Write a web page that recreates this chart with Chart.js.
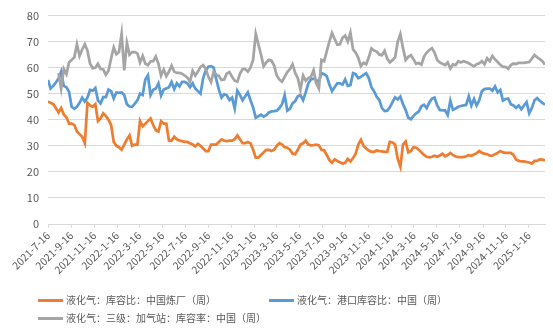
<!DOCTYPE html>
<html>
<head>
<meta charset="utf-8">
<script src="https://cdn.jsdelivr.net/npm/chart.js@4.4.1/dist/chart.umd.min.js"></script>
<style>
  body { margin: 0; background: #fff; }
  #wrap { position: relative; width: 553px; height: 331px; }
  .leg { position: absolute; font: 10px "Noto Sans CJK SC", sans-serif; color: #595959; white-space: nowrap; line-height: 12px; }
  .leg i { display: inline-block; width: 25px; height: 3px; vertical-align: middle; margin-right: 3px; position: relative; top: -1px; }
</style>
</head>
<body>
<div id="wrap">
  <canvas id="c" width="553" height="331"></canvas>
  <div class="leg" style="left:38px;top:294px"><i style="background:#ED7D31"></i>液化气：库容比：中国炼厂（周）</div>
  <div class="leg" style="left:269px;top:294px"><i style="background:#5B9BD5"></i>液化气：港口库容比：中国（周）</div>
  <div class="leg" style="left:38px;top:312px"><i style="background:#A5A5A5"></i>液化气：三级：加气站：库容率：中国（周）</div>
</div>
<script>
// weekly series, first week 2021-7-16
const startDate = '2021-7-16';
const tickLabels = ['2021-7-16', '2021-9-16', '2021-11-16', '2022-1-16', '2022-3-16', '2022-5-16',
  '2022-7-16', '2022-9-16', '2022-11-16', '2023-1-16', '2023-3-16', '2023-5-16', '2023-7-16',
  '2023-9-16', '2023-11-16', '2024-1-16', '2024-3-16', '2024-5-16', '2024-7-16', '2024-9-16',
  '2024-11-16', '2025-1-16'];

// 液化气：库容比：中国炼厂（周）
const refinery = [
  47, 46.5, 46, 44.5, 42.8, 44.5, 42, 41, 38.5, 38.5, 38, 35.5, 34.5, 33.5, 31,
  46.5, 45.5, 45, 46, 39.5, 40.5, 42.5, 41.5, 40, 38, 31.5, 30, 29.5, 28.5, 30.5,
  32.5, 34, 30, 30.5, 30.5, 39.5, 37.5, 38.5, 39.5, 40.5, 38, 36, 35.5, 39.5, 38.5,
  38.5, 32, 32, 33.5, 32.5, 32, 31.8, 31.5, 31.5, 31, 30.5, 29.8, 30.8, 30, 29,
  28, 28, 30.5, 30.5, 30.5, 31.5, 32.5, 32, 31.8, 32, 32, 32.5, 34, 32.5, 31,
  31, 31.5, 31, 28.5, 25.5, 25.5, 26.5, 27.5, 28.5, 28.5, 28, 28.5, 30, 31, 30.5,
  29.5, 29.3, 28.5, 27, 26.8, 28.5, 30.5, 31, 32, 30.5, 30.2, 30.3, 30.5, 30.2, 28.5,
  28.3, 26.5, 24.5, 23.5, 24.8, 24.2, 23.7, 23.2, 23.5, 25, 24, 25.3, 27, 30.5, 32.3,
  30, 29, 28.2, 27.7, 27.7, 28.2, 28, 27.9, 27.7, 27.7, 31.5, 31.3, 30.5, 25, 22,
  30.5, 31.7, 27.5, 28, 29.5, 29.3, 28.5, 27.5, 26.5, 25.8, 25.6, 25.8, 26.2, 25.8, 26.3,
  27, 26, 26.5, 27.3, 26.5, 25.9, 25.7, 25.7, 25.7, 26, 26.4, 26.2, 26.7, 27.2, 28,
  27.3, 27, 26.8, 26.2, 26.2, 26.8, 27.3, 28, 27.5, 27.3, 27.3, 27.3, 26.5, 24.8, 24.2,
  24, 24, 23.8, 23.6, 23.2, 24.2, 24.2, 24.8, 24.7, 24.4
];

// 液化气：港口库容比：中国（周）
const port = [
  55.3, 52, 53, 54.3, 55.8, 58.5, 53, 52.5, 50.8, 45, 44.2, 45, 46.5, 48.5, 47,
  48.5, 51.5, 51.2, 52.2, 47.5, 46.3, 48.7, 48.7, 51.6, 51, 48.2, 50.5, 50.3, 50.5, 49.5,
  46, 45.1, 45, 46.2, 47.5, 50, 49.5, 55.5, 57.1, 49.5, 51.5, 52, 54, 49.3, 51.6,
  52, 52.5, 54.5, 51.8, 54, 52.8, 54.6, 54.6, 54, 52.5, 54, 52, 51, 50, 56,
  59, 60.4, 60.6, 60, 55.5, 51.5, 48.5, 49.8, 49.4, 47.6, 48.5, 44.3, 51.2, 49.6, 47.5,
  49, 50.5, 47.5, 44.8, 40.8, 41.3, 42, 41.2, 41.8, 42.8, 43.2, 43.3, 43.5, 44.5, 46,
  49.5, 43.5, 44.2, 46.3, 47.2, 49, 49.5, 47.5, 50.5, 54, 55.5, 55.8, 55.3, 54.5, 57.9,
  57.5, 56.8, 53.5, 51, 52.5, 54, 54, 53.5, 55.5, 53, 53.3, 57.9, 57.5, 56, 56.5,
  57.2, 57.9, 56, 52.5, 51, 48.8, 47.6, 44.5, 43.4, 43.5, 44.8, 46.8, 48.6, 47.8, 48.9,
  46, 43.8, 40.8, 40.2, 41.5, 42.5, 43.2, 45.2, 45.8, 44.5, 46.7, 48.1, 48.5, 45.5, 43.8,
  43.6, 43.6, 41.8, 47.3, 43.8, 44.3, 45, 45.3, 45.5, 45.7, 49, 45.5, 48, 45.5, 47.5,
  51, 51.8, 52, 52, 51.2, 52.8, 50.5, 51.5, 47.4, 48, 48.2, 46, 45.5, 44.6, 45.5,
  44, 45.5, 46.8, 42.5, 44.5, 47.5, 48.3, 47.3, 46.5, 45.8
];

// 液化气：三级：加气站：库容率：中国（周）
const station = [
  null, null, null, null, 58, 52, 59.5, 57.5, 62, 63, 64, 69, 64.5, 67, 69,
  66.5, 61.5, 59.8, 60, 61.5, 59.5, 59.3, 57.3, 58.8, 63.5, 67.8, 65.2, 66, 73, 59,
  69.5, 65, 66, 66, 65.5, 62, 64.5, 61.6, 61, 62.4, 62.5, 64.3, 61.5, 57, 59.3,
  56.8, 58.5, 60.8, 58.5, 58, 58, 57.7, 57, 56.2, 54.6, 58.8, 57, 58.5, 60.3, 61,
  59.5, 56.5, 54.5, 58.5, 57.3, 56.8, 55.3, 55.5, 57.8, 58.3, 56.5, 55, 54.6, 57.7, 59.5,
  59.5, 58.5, 60, 63, 73, 69, 65, 60.5, 62, 63, 62.7, 60.8, 57, 55.4, 54.6,
  56.5, 58.3, 59.4, 61.3, 58, 56, 51.5, 57, 55, 56, 56.5, 59, 54, 52, 63,
  62.5, 66.3, 70, 73.3, 71, 68.8, 69, 71.5, 72.3, 70, 73.5, 67, 65.8, 63.8, 60.6,
  61.9, 61.3, 64, 67.4, 66.6, 66.2, 65, 64.8, 66.5, 63.5, 62, 62.9, 64, 70, 72.9,
  67.5, 63, 64.2, 64.8, 63.2, 61.5, 61.8, 61.2, 64.3, 65.8, 66.8, 67.5, 65.8, 63, 62,
  61.5, 61, 62, 59.7, 61.3, 61, 62.5, 62, 62.5, 62.2, 61.7, 61.1, 60.5, 61.3, 61.7,
  62.5, 61.3, 63.6, 62.5, 64.5, 63.2, 62.2, 61.1, 60.3, 60.3, 59.6, 61, 61.6, 61.4, 61.9,
  61.9, 61.9, 62, 62.2, 63.5, 64.9, 64, 63.3, 62.5, 61.2
];

const DAY = 864e5;
function dayOf(s) {
  const [y, m, d] = s.split('-').map(Number);
  const [y0, m0, d0] = startDate.split('-').map(Number);
  return Math.round((Date.UTC(y, m - 1, d) - Date.UTC(y0, m0 - 1, d0)) / DAY);
}
const weekly = arr => arr.map((v, i) => ({ x: i * 7, y: v }));

const grey = '#595959';
const gridColor = '#d9d9d9';
const font = { family: '"Noto Sans CJK SC", sans-serif', size: 10.5 };

new Chart(document.getElementById('c'), {
  type: 'line',
  data: {
    datasets: [
      { label: '液化气：库容比：中国炼厂（周）', data: weekly(refinery), borderColor: '#ED7D31', order: 3 },
      { label: '液化气：港口库容比：中国（周）', data: weekly(port), borderColor: '#5B9BD5', order: 2 },
      { label: '液化气：三级：加气站：库容率：中国（周）', data: weekly(station), borderColor: '#A5A5A5', order: 1 }
    ]
  },
  options: {
    responsive: false,
    animation: false,
    layout: { padding: { top: 12, right: 8, bottom: 45, left: 0 } },
    elements: {
      line: { borderWidth: 2.75, tension: 0, fill: false },
      point: { radius: 0 }
    },
    plugins: { legend: { display: false }, tooltip: { enabled: false } },
    scales: {
      x: {
        type: 'linear',
        min: 0,
        max: (refinery.length - 1) * 7,
        afterBuildTicks: s => { s.ticks = tickLabels.map(t => ({ value: dayOf(t) })); },
        afterFit: s => { s.height = 62; },
        grid: { drawOnChartArea: false, drawTicks: true, tickLength: 4, color: gridColor },
        border: { display: true, color: gridColor },
        ticks: {
          autoSkip: false, minRotation: 45, maxRotation: 45, padding: 1,
          color: grey, font: font,
          callback: (v, i) => tickLabels[i]
        }
      },
      y: {
        min: 0, max: 80,
        afterFit: s => { s.width = 48; },
        grid: { color: gridColor, drawTicks: false },
        border: { display: false },
        ticks: { stepSize: 10, padding: 9, color: grey, font: { family: font.family, size: 11 } }
      }
    }
  }
});
</script>
</body>
</html>
